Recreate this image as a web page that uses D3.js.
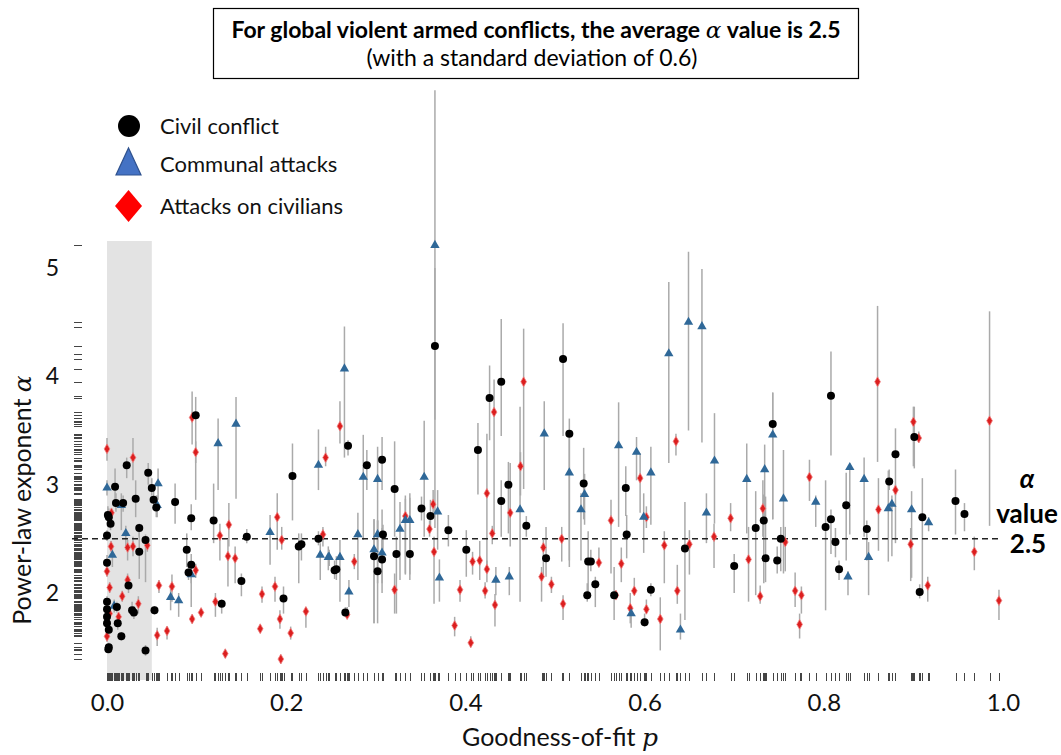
<!DOCTYPE html>
<html>
<head>
<meta charset="utf-8">
<script src="https://cdn.jsdelivr.net/npm/d3@7"></script>
<style>
  body { margin: 0; background: #fff; }
  text { font-family: Lato, "Open Sans", sans-serif; }
</style>
</head>
<body>
<svg id="chart" width="1061" height="755"></svg>
<script>
// [p, alpha, lower, upper]
var civilConflict = [
  [0.099,3.64,2.86,3.81],[0.022,3.18,3.06,3.25],[0.009,2.98,2.83,3.15],[0.046,3.11,3.0,3.2],
  [0.050,2.97,2.9,3.06],[0.052,2.86,2.78,2.95],[0.055,2.79,2.7,2.9],[0.032,2.87,2.7,3.04],
  [0.010,2.83,2.75,2.92],[0.018,2.83,2.75,2.9],[0.001,2.72,2.65,2.8],[0.002,2.70,2.62,2.78],
  [0.004,2.64,2.58,2.72],[0.036,2.60,2.52,2.64],[0.000,2.53,2.48,2.58],[0.043,2.49,2.10,2.54],
  [0.036,2.38,2.13,2.6],[0.000,2.28,2.2,2.35],[0.024,2.07,2.0,2.15],[0.000,1.92,1.87,1.97],
  [0.000,1.85,1.8,1.9],[0.011,1.87,1.82,1.92],[0.028,1.84,1.78,1.92],[0.030,1.82,1.76,1.88],
  [0.000,1.78,1.73,1.83],[0.012,1.72,1.66,1.78],[0.000,1.72,1.68,1.76],[0.002,1.66,1.6,1.72],
  [0.016,1.60,1.56,1.64],[0.002,1.50,1.46,1.54],[0.0015,1.48,1.45,1.52],[0.043,1.47,1.42,1.52],
  [0.053,1.84,1.8,1.88],[0.076,2.84,2.64,3.01],[0.094,2.69,2.58,2.82],[0.119,2.67,2.46,3.01],
  [0.156,2.52,2.46,2.59],[0.089,2.40,2.24,2.55],[0.094,2.26,2.09,2.36],[0.091,2.19,2.12,2.27],
  [0.150,2.11,1.97,2.18],[0.128,1.90,1.81,1.94],[0.197,1.95,1.81,2.06],[0.207,3.08,2.67,3.38],
  [0.214,2.43,2.09,2.55],[0.217,2.45,2.3,2.55],[0.236,2.50,2.44,2.57],[0.254,2.21,2.13,2.3],
  [0.366,4.28,3.6,5.0],[0.427,3.80,3.41,4.10],[0.440,3.95,3.45,4.53],[0.269,3.36,3.27,3.41],
  [0.290,3.18,2.95,3.32],[0.307,3.23,2.95,3.44],[0.321,2.96,2.52,3.40],[0.351,2.78,2.67,2.89],
  [0.361,2.71,2.6,2.86],[0.414,3.32,2.91,3.57],[0.440,2.85,2.52,3.04],[0.448,3.00,2.55,3.21],
  [0.468,2.62,2.52,2.71],[0.308,2.54,2.40,2.63],[0.381,2.58,2.43,2.72],[0.401,2.40,2.15,2.58],
  [0.323,2.36,1.81,2.52],[0.338,2.36,2.12,2.92],[0.298,2.34,1.72,2.68],[0.307,2.31,2.09,2.77],
  [0.256,2.22,2.12,2.34],[0.302,2.20,2.09,2.67],[0.266,1.82,1.78,1.87],[0.490,2.32,2.15,2.61],
  [0.509,4.16,3.45,4.49],[0.808,3.82,3.27,4.23],[0.516,3.47,2.24,3.61],[0.532,3.01,2.68,3.34],
  [0.579,2.97,2.71,3.17],[0.580,2.54,2.32,2.72],[0.743,3.56,2.68,3.85],[0.724,2.60,1.98,2.94],
  [0.733,2.67,2.09,2.91],[0.752,2.50,2.2,2.61],[0.645,2.41,1.75,2.84],[0.537,2.29,2.0,2.57],
  [0.540,2.29,2.2,2.4],[0.700,2.25,2.0,2.36],[0.735,2.32,2.1,2.89],[0.748,2.30,2.18,2.43],
  [0.545,2.08,1.87,2.15],[0.536,1.98,1.92,2.09],[0.566,1.98,1.75,2.24],[0.607,2.03,1.97,2.09],
  [0.600,1.73,1.69,1.81],[0.901,3.44,3.15,3.72],[0.880,3.28,2.46,3.52],[0.873,3.03,2.95,3.14],
  [0.825,2.81,2.30,3.11],[0.808,2.68,2.36,2.77],[0.802,2.61,1.84,3.04],[0.848,2.59,2.30,2.67],
  [0.813,2.47,2.33,2.6],[0.817,2.22,2.12,2.3],[0.910,2.70,1.99,3.06],[0.907,2.01,1.95,2.08],
  [0.947,2.85,2.54,3.14],[0.957,2.73,2.57,2.83]
];

var communalAttacks = [
  [0.000,2.97,2.9,3.04],[0.016,2.81,2.58,2.92],[0.057,3.01,2.86,3.15],[0.056,2.81,2.7,2.9],
  [0.021,2.55,2.4,2.62],[0.006,2.35,2.24,2.43],[0.008,1.88,1.82,1.94],[0.144,3.56,2.87,3.81],
  [0.124,3.38,2.95,3.61],[0.071,1.96,1.84,2.06],[0.080,1.93,1.78,2.0],[0.094,2.17,1.87,2.2],
  [0.182,2.56,2.26,2.72],[0.236,3.18,2.95,3.51],[0.238,2.35,2.12,2.46],[0.248,2.33,2.25,2.4],
  [0.265,4.07,3.25,4.46],[0.366,5.21,2.6,6.64],[0.286,3.07,2.49,3.46],[0.302,3.05,2.40,3.35],
  [0.354,3.07,2.52,3.59],[0.488,3.47,2.95,3.77],[0.461,2.77,1.92,3.72],[0.369,2.75,2.40,2.95],
  [0.333,2.67,2.18,2.87],[0.338,2.67,2.17,2.88],[0.327,2.59,2.12,2.84],[0.302,2.54,1.72,2.67],
  [0.280,2.54,2.12,2.74],[0.298,2.40,1.72,2.68],[0.307,2.37,2.0,2.6],[0.247,2.33,2.21,2.43],
  [0.260,2.33,1.92,2.49],[0.270,2.01,1.87,2.12],[0.371,2.14,1.92,2.31],[0.434,2.12,1.98,2.24],
  [0.449,2.15,1.98,2.24],[0.627,4.21,3.2,4.87],[0.649,4.50,3.5,5.15],[0.664,4.46,3.39,4.99],
  [0.516,3.11,2.3,3.5],[0.533,2.91,2.63,3.10],[0.529,2.77,2.30,2.92],[0.571,3.36,2.61,3.76],
  [0.591,3.30,3.04,3.44],[0.607,3.11,2.63,3.35],[0.599,2.70,2.37,2.92],[0.678,3.22,2.64,3.66],
  [0.669,2.74,2.46,2.92],[0.714,3.05,2.55,3.38],[0.734,3.14,2.64,3.37],[0.743,3.46,2.68,3.85],
  [0.755,2.87,2.18,3.32],[0.585,1.81,1.68,1.88],[0.640,1.66,1.57,1.81],[0.829,3.16,2.54,3.2],
  [0.845,3.05,2.52,3.25],[0.791,2.84,2.61,2.9],[0.872,2.78,2.29,3.13],[0.876,2.82,2.34,2.9],
  [0.898,2.77,2.14,2.94],[0.917,2.65,2.57,2.7],[0.850,2.33,1.98,2.47],[0.827,2.15,1.98,2.2]
];

var attacksOnCivilians = [
  [0.000,3.33,3.22,3.43],[0.029,3.25,3.04,3.43],[0.095,3.62,3.37,3.86],[0.099,3.30,3.2,3.4],
  [0.005,2.74,2.67,2.78],[0.0045,2.43,2.38,2.48],[0.029,2.43,2.34,2.52],[0.023,2.42,2.30,2.49],
  [0.045,2.44,2.38,2.5],[0.000,2.20,2.15,2.25],[0.023,2.12,2.06,2.18],[0.003,2.05,2.0,2.1],
  [0.017,1.97,1.92,2.02],[0.035,1.90,1.81,1.97],[0.003,1.81,1.77,1.85],[0.013,1.78,1.74,1.82],
  [0.000,1.60,1.55,1.64],[0.058,2.07,2.0,2.12],[0.0725,2.06,1.92,2.17],[0.056,1.61,1.51,1.68],
  [0.067,1.65,1.57,1.69],[0.095,1.76,1.72,1.8],[0.105,1.82,1.78,1.86],[0.099,2.21,2.14,2.27],
  [0.126,2.53,2.30,2.64],[0.136,2.63,2.43,2.83],[0.135,2.34,2.06,2.49],[0.143,2.32,2.09,2.43],
  [0.121,1.92,1.78,2.0],[0.132,1.44,1.40,1.48],[0.190,2.70,2.40,2.92],[0.195,2.49,2.40,2.61],
  [0.173,1.99,1.91,2.06],[0.1875,2.06,1.92,2.15],[0.193,1.76,1.67,1.84],[0.171,1.67,1.63,1.71],
  [0.194,1.39,1.35,1.43],[0.205,1.63,1.57,1.69],[0.222,1.83,1.68,1.87],[0.241,2.54,2.43,2.61],
  [0.244,3.25,3.17,3.35],[0.260,3.54,3.38,3.77],[0.432,3.67,2.55,3.97],[0.465,3.95,2.96,4.44],
  [0.4615,3.17,2.9,3.3],[0.424,2.92,2.24,3.47],[0.450,2.74,2.43,3.2],[0.364,2.82,2.71,2.95],
  [0.333,2.71,2.17,2.9],[0.360,2.59,2.52,2.67],[0.430,2.55,2.45,2.62],[0.365,2.38,1.90,2.52],
  [0.276,2.29,2.22,2.36],[0.408,2.29,2.17,2.38],[0.416,2.30,2.12,2.48],[0.424,2.22,2.1,2.3],
  [0.422,2.02,1.95,2.1],[0.433,1.89,1.69,1.99],[0.394,2.03,1.92,2.12],[0.321,2.03,1.81,2.18],
  [0.268,1.80,1.78,1.87],[0.388,1.70,1.60,1.78],[0.406,1.54,1.50,1.6],[0.487,2.42,2.15,2.49],
  [0.485,2.15,1.92,2.24],[0.496,2.08,2.0,2.15],[0.5075,2.50,2.29,2.61],[0.509,1.90,1.75,1.98],
  [0.860,3.95,3.21,4.65],[0.635,3.40,3.27,3.47],[0.595,3.06,2.74,3.29],[0.602,2.70,2.6,2.8],
  [0.5625,2.67,2.18,2.86],[0.696,2.69,2.57,2.83],[0.6775,2.52,2.23,2.64],[0.650,2.45,2.17,2.58],
  [0.622,2.44,2.09,2.57],[0.549,2.28,2.24,2.42],[0.574,2.27,2.1,2.42],[0.716,2.31,1.92,2.61],
  [0.732,2.78,2.52,3.04],[0.757,2.47,2.2,2.61],[0.6365,2.02,1.90,2.26],[0.5885,2.02,1.98,2.14],
  [0.568,1.98,1.94,2.02],[0.584,1.86,1.72,2.0],[0.602,1.85,1.81,1.94],[0.6175,1.76,1.47,1.96],
  [0.729,1.97,1.9,2.07],[0.768,2.02,1.87,2.19],[0.900,3.58,3.17,3.72],[0.906,3.43,3.39,3.49],
  [0.985,3.59,2.62,4.60],[0.784,3.07,2.85,3.23],[0.880,2.95,2.9,3.0],[0.861,2.77,2.39,3.06],
  [0.897,2.45,2.11,2.6],[0.968,2.38,2.21,2.52],[0.775,1.98,1.81,2.06],[0.773,1.71,1.58,1.81],
  [0.916,2.07,1.92,2.15],[0.9955,1.93,1.75,2.03]
];

var xTicks = [0, 0.2, 0.4, 0.6, 0.8, 1.0];
var yTicks = [2, 3, 4, 5];
var meanAlpha = 2.5;
var pCutoff = 0.05;
var legendLabels = ["Civil conflict", "Communal attacks", "Attacks on civilians"];

var svg = d3.select("#chart");
var x = d3.scaleLinear().domain([0, 1]).range([107, 1003]);
var y = d3.scaleLinear().domain([2, 5]).range([593, 268]);
var plotTop = 241, plotBottom = 680;
var greek = "DejaVu Serif, serif";

var all = attacksOnCivilians.concat(communalAttacks, civilConflict);

// shaded p < 0.05 band
svg.append("rect")
  .attr("x", x(0)).attr("y", plotTop)
  .attr("width", x(pCutoff) - x(0)).attr("height", plotBottom - plotTop)
  .attr("fill", "#e3e3e3");

// error bars
svg.append("g").selectAll("line").data(all).enter().append("line")
  .attr("x1", function(d) { return x(d[0]); })
  .attr("x2", function(d) { return x(d[0]); })
  .attr("y1", function(d) { return y(d[2]); })
  .attr("y2", function(d) { return y(d[3]); })
  .attr("stroke", "#aaa").attr("stroke-width", 1.5);

// rugs
svg.append("g").selectAll("line").data(all).enter().append("line")
  .attr("x1", 74).attr("x2", 82)
  .attr("y1", function(d) { return Math.round(y(d[1])) + 0.5; })
  .attr("y2", function(d) { return Math.round(y(d[1])) + 0.5; })
  .attr("stroke", "#444").attr("stroke-width", 1);
svg.append("g").selectAll("line").data(all).enter().append("line")
  .attr("x1", function(d) { return Math.round(x(d[0])) + 0.5; })
  .attr("x2", function(d) { return Math.round(x(d[0])) + 0.5; })
  .attr("y1", 673).attr("y2", 681)
  .attr("stroke", "#444").attr("stroke-width", 1);

// mean line
svg.append("line")
  .attr("x1", 72).attr("x2", 998)
  .attr("y1", y(meanAlpha)).attr("y2", y(meanAlpha))
  .attr("stroke", "#222").attr("stroke-width", 1.5)
  .attr("stroke-dasharray", "6,4");

// markers
svg.append("g").selectAll("path").data(attacksOnCivilians).enter().append("path")
  .attr("d", d3.symbol().type(d3.symbolDiamond).size(28))
  .attr("transform", function(d) { return "translate(" + x(d[0]) + "," + y(d[1]) + ")"; })
  .attr("fill", "#dc1f1f").attr("stroke", "#f08080").attr("stroke-width", 0.8);

svg.append("g").selectAll("path").data(communalAttacks).enter().append("path")
  .attr("d", d3.symbol().type(d3.symbolTriangle).size(38))
  .attr("transform", function(d) { return "translate(" + x(d[0]) + "," + y(d[1]) + ")"; })
  .attr("fill", "#2f6898");

svg.append("g").selectAll("circle").data(civilConflict).enter().append("circle")
  .attr("cx", function(d) { return x(d[0]); })
  .attr("cy", function(d) { return y(d[1]); })
  .attr("r", 4).attr("fill", "#000");

// axes
var xAxis = svg.append("g")
  .attr("transform", "translate(0,691)")
  .call(d3.axisBottom(x).tickValues(xTicks).tickFormat(d3.format(".1f")).tickSize(0));
xAxis.select(".domain").remove();
xAxis.selectAll("text").attr("font-family", "Lato, sans-serif").attr("font-size", 24).attr("fill", "#111");

var yAxis = svg.append("g")
  .attr("transform", "translate(62,0)")
  .call(d3.axisLeft(y).tickValues(yTicks).tickFormat(d3.format("d")).tickSize(0));
yAxis.select(".domain").remove();
yAxis.selectAll("text").attr("font-family", "Lato, sans-serif").attr("font-size", 23).attr("fill", "#111");

// axis titles
var yt = svg.append("text")
  .attr("transform", "translate(31,500) rotate(-90)")
  .attr("text-anchor", "middle").attr("font-size", 25).attr("fill", "#111");
yt.append("tspan").text("Power-law exponent  ");
yt.append("tspan").attr("font-family", greek).attr("font-style", "italic").text("\u03b1");

var xt = svg.append("text")
  .attr("x", 560).attr("y", 746)
  .attr("text-anchor", "middle").attr("font-size", 25).attr("fill", "#111");
xt.append("tspan").text("Goodness-of-fit  ");
xt.append("tspan").attr("font-family", greek).attr("font-style", "italic").text("p");

// right label
var rl = svg.append("g").attr("font-weight", "bold").attr("font-size", 26).attr("text-anchor", "middle");
rl.append("text").attr("x", 1027).attr("y", 488)
  .attr("font-family", greek).attr("font-style", "italic").text("\u03b1");
rl.append("text").attr("x", 1027).attr("y", 523).text("value");
rl.append("text").attr("x", 1028).attr("y", 553).text("2.5");

// title box
svg.append("rect")
  .attr("x", 213.5).attr("y", 8.5).attr("width", 645).attr("height", 70)
  .attr("fill", "#fff").attr("stroke", "#000").attr("stroke-width", 1.2);
var t1 = svg.append("text").attr("x", 536).attr("y", 38)
  .attr("text-anchor", "middle").attr("font-weight", "bold").attr("font-size", 23);
t1.append("tspan").text("For global violent armed conflicts, the average ");
t1.append("tspan").attr("font-family", greek).attr("font-style", "italic").attr("font-weight", "normal").text("\u03b1");
t1.append("tspan").text(" value is 2.5");
svg.append("text").attr("x", 532).attr("y", 66)
  .attr("text-anchor", "middle").attr("font-size", 23)
  .text("(with a standard deviation of 0.6)");

// legend
var lg = svg.append("g");
lg.append("circle").attr("cx", 129).attr("cy", 126).attr("r", 11).attr("fill", "#000");
lg.append("path").attr("d", "M116,175L141,175L128.5,148Z")
  .attr("fill", "#4472c4").attr("stroke", "#2f528f").attr("stroke-width", 1.2);
lg.append("path").attr("d", "M128.5,190L142,206L128.5,222L115,206Z").attr("fill", "#ff0000");
var legendY = [134, 172, 214];
lg.selectAll("text.lbl").data(legendLabels).enter().append("text")
  .attr("class", "lbl")
  .attr("x", 160).attr("y", function(d, i) { return legendY[i]; })
  .attr("font-size", 22).attr("fill", "#111")
  .text(function(d) { return d; });
</script>
</body>
</html>
